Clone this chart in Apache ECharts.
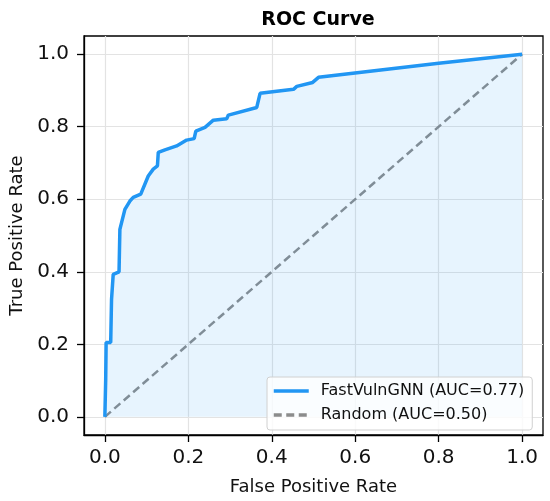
<!DOCTYPE html>
<html>
<head>
<meta charset="utf-8">
<script src="https://cdn.jsdelivr.net/npm/echarts@6/dist/echarts.min.js"></script>
<style>
  html, body { margin: 0; padding: 0; background: #fff; }
  #chart { width: 550px; height: 501px; }
</style>
</head>
<body>
<div id="chart"></div>
<script>
// ROC 曲线数据
const fpr = [0, 0.002, 0.003, 0.014, 0.016, 0.02, 0.034, 0.036, 0.048, 0.06, 0.068, 0.086, 0.104, 0.116, 0.126, 0.128,
  0.144, 0.172, 0.196, 0.214, 0.218, 0.24, 0.26, 0.292, 0.296, 0.364, 0.372, 0.452, 0.46, 0.498, 0.512, 0.8, 1.0];
const tpr = [0, 0.103, 0.205, 0.205, 0.324, 0.393, 0.40, 0.517, 0.572, 0.595, 0.605, 0.614, 0.664, 0.683, 0.692, 0.729,
  0.736, 0.747, 0.763, 0.767, 0.788, 0.798, 0.818, 0.822, 0.832, 0.853, 0.892, 0.903, 0.911, 0.922, 0.936, 0.975, 1.0];
const randomLine = [[0, 0], [1, 1]];
const tickValues = [0, 0.2, 0.4, 0.6, 0.8, 1.0];
const seriesNames = ['FastVulnGNN (AUC=0.77)', 'Random (AUC=0.50)'];

const font = 'DejaVu Sans';
const chart = echarts.init(document.getElementById('chart'));

const axisCommon = {
  type: 'value',
  min: -0.05,
  max: 1.05,
  axisLine: { show: true, onZero: false, lineStyle: { color: '#000', width: 1.3 } },
  axisTick: { show: true, customValues: tickValues, length: 7, lineStyle: { color: '#000', width: 1.3 } },
  axisLabel: { customValues: tickValues, color: '#111', fontSize: 20, fontFamily: font, formatter: v => v.toFixed(1) },
  splitLine: { show: true, lineStyle: { color: '#e3e3e3', width: 1.2 } },
  nameLocation: 'middle',
  nameTextStyle: { color: '#111', fontSize: 18, fontFamily: font }
};

chart.setOption({
  animation: false,
  title: {
    text: 'ROC Curve', left: 313, top: 6, textAlign: 'center',
    textStyle: { fontSize: 19, fontWeight: 'bold', fontFamily: font, color: '#000' }
  },
  grid: { left: 84, top: 36, right: 7, bottom: 66, show: true, borderColor: '#000', borderWidth: 1.3 },
  legend: {
    orient: 'vertical', left: 267, top: 377,
    itemWidth: 35, itemHeight: 16, itemGap: 8,
    padding: [6, 8, 7, 5],
    backgroundColor: 'rgba(255,255,255,0.8)', borderColor: '#d0d0d0', borderWidth: 1, borderRadius: 3,
    itemStyle: { opacity: 0 },
    lineStyle: { width: 3.5 },
    textStyle: { fontSize: 16, lineHeight: 16, fontFamily: font, color: '#111', padding: [0, 0, 0, 7] },
    data: seriesNames
  },
  xAxis: Object.assign({}, axisCommon, {
    name: 'False Positive Rate', nameGap: 43,
    axisLabel: Object.assign({}, axisCommon.axisLabel, { margin: 13 })
  }),
  yAxis: Object.assign({}, axisCommon, {
    name: 'True Positive Rate', nameGap: 57,
    axisLabel: Object.assign({}, axisCommon.axisLabel, { margin: 15 })
  }),
  series: [
    {
      name: seriesNames[0], type: 'line', showSymbol: false, symbol: 'none',
      data: fpr.map((x, i) => [x, tpr[i]]),
      lineStyle: { color: '#2196F3', width: 3.5 },
      itemStyle: { color: '#2196F3' },
      areaStyle: { color: 'rgba(33,150,243,0.15)' },
      z: 3
    },
    {
      name: seriesNames[1], type: 'line', showSymbol: false, symbol: 'none',
      data: randomLine,
      lineStyle: { color: '#7f7f7f', width: 2.5, type: [8, 4.5], opacity: 0.9 },
      itemStyle: { color: '#7f7f7f' },
      z: 2
    }
  ]
});
window.addEventListener('resize', () => chart.resize());
</script>
</body>
</html>
